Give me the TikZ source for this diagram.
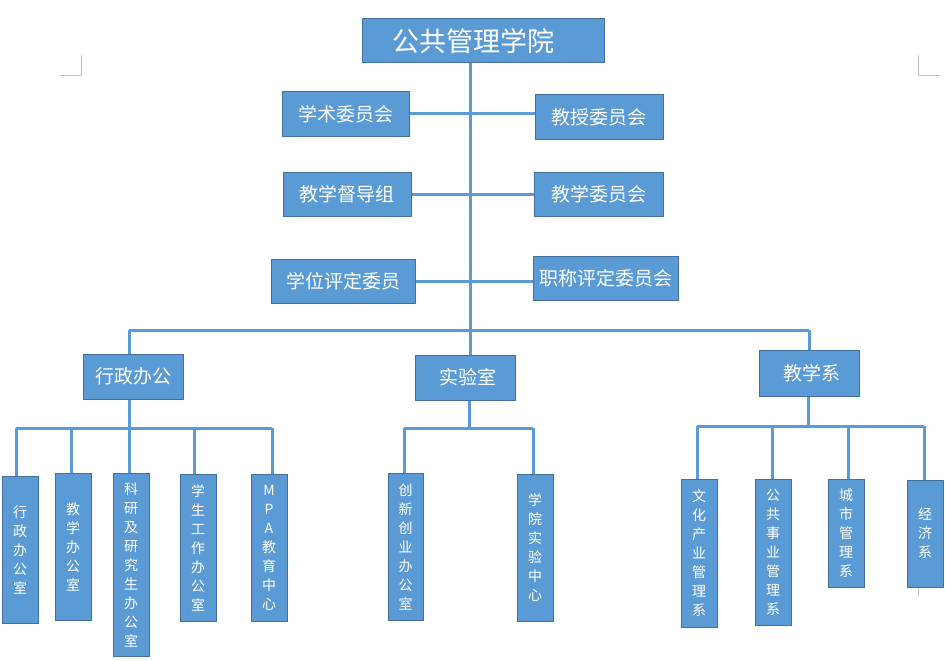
\documentclass[tikz,border=0pt]{standalone}
\usepackage{fontspec}
\newfontfamily\cjk{Noto Sans CJK SC}
\definecolor{boxfill}{HTML}{5B9BD5}
\definecolor{boxline}{HTML}{41719C}
\definecolor{conn}{HTML}{5B9BD5}
\definecolor{mark}{HTML}{BFBFBF}
\tikzset{
  box/.style={draw=boxline, fill=boxfill, line width=1pt, text=white, inner sep=0pt, align=center},
  bigbox/.style={box, font=\cjk\fontsize{27}{30}\selectfont},
  midbox/.style={box, font=\cjk\fontsize{19}{22}\selectfont},
  vbox/.style={box, font=\cjk\fontsize{14}{19}\selectfont, minimum width=36pt},
  link/.style={draw=conn, line width=3pt},
  cornermark/.style={draw=mark, line width=1pt}
}
\begin{document}
\begin{tikzpicture}[x=1pt,y=-1pt]
\useasboundingbox (0,0) rectangle (946,661);
% corner marks
\draw[cornermark] (60,76) -- (81,76) -- (81,55);
\draw[cornermark] (918,55) -- (918,76) -- (940,76);
\draw[cornermark] (918,588) -- (918,596);

% top
\node[bigbox, minimum width=242pt, minimum height=44pt] (top) at (483,41) {公共管理学院\hspace*{19pt}};
\node[midbox, minimum width=127pt, minimum height=44pt] (xs) at (345.5,114) {学术委员会};
\node[midbox, minimum width=128pt, minimum height=44pt] (js) at (599,117) {教授委员会};
\node[midbox, minimum width=128pt, minimum height=44pt] (dd) at (347,194) {教学督导组};
\node[midbox, minimum width=129pt, minimum height=44pt] (jw) at (598.5,194) {教学委员会};
\node[midbox, minimum width=144pt, minimum height=44pt] (xw) at (343,281) {学位评定委员};
\node[midbox, minimum width=145pt, minimum height=44pt] (zc) at (605.5,278) {职称评定委员会};

% level 2
\node[midbox, minimum width=100pt, minimum height=45pt] (xz) at (133,376.5) {行政办公};
\node[midbox, minimum width=100pt, minimum height=45pt] (sy) at (465,377.5) {\hspace*{6pt}实验室};
\node[midbox, minimum width=100pt, minimum height=46pt] (jx) at (809,373) {\hspace*{5pt}教学系};

% level 3 admin
\node[vbox, minimum height=147pt] (a1) at (20,549.5) {行\\政\\办\\公\\室};
\node[vbox, minimum height=147pt] (a2) at (73,546.5) {教\\学\\办\\公\\室};
\node[vbox, minimum height=183pt] (a3) at (131,564.5) {科\\研\\及\\研\\究\\生\\办\\公\\室};
\node[vbox, minimum height=147pt] (a4) at (198,547.5) {学\\生\\工\\作\\办\\公\\室};
\node[vbox, minimum height=147pt] (a5) at (269,547.5) {M\\P\\A\\教\\育\\中\\心};
% lab
\node[vbox, minimum width=35pt, minimum height=147pt] (l1) at (405.5,546.5) {创\\新\\创\\业\\办\\公\\室};
\node[vbox, minimum height=147pt] (l2) at (535,547.5) {学\\院\\实\\验\\中\\心};
% departments
\node[vbox, minimum height=148pt] (d1) at (699,553) {文\\化\\产\\业\\管\\理\\系};
\node[vbox, minimum height=146pt] (d2) at (773,552) {公\\共\\事\\业\\管\\理\\系};
\node[vbox, minimum height=108pt] (d3) at (846,533) {城\\市\\管\\理\\系};
\node[vbox, minimum height=107pt] (d4) at (925,533.5) {经\\济\\系};

% coordinates
\coordinate (trunk) at (470,330);
\coordinate (b1) at (129,330);
\coordinate (b3) at (809,330);
\coordinate (ax1) at (16,428);
\coordinate (ax2) at (71,428);
\coordinate (ax3) at (129,428);
\coordinate (ax4) at (194,428);
\coordinate (ax5) at (272,428);
\coordinate (lx1) at (404,428);
\coordinate (lxm) at (469,428);
\coordinate (lx2) at (533,428);
\coordinate (dx1) at (697,426);
\coordinate (dx2) at (772,426);
\coordinate (dxm) at (808,426);
\coordinate (dx3) at (848,426);
\coordinate (dx4) at (924,426);

% connectors, top part
\draw[link] (top.south -| trunk) -- (trunk);
\draw[link] (xs.east) -- (xs.east -| js.west);
\draw[link] (dd.east) -- (dd.east -| jw.west);
\draw[link] (xw.east) -- (xw.east -| zc.west);
\draw[link] (b1) -- (b3);
\draw[link] (b1) -- (b1 |- xz.north);
\draw[link] (trunk) -- (trunk |- sy.north);
\draw[link] (b3) -- (b3 |- jx.north);

% admin
\draw[link] (xz.south -| ax3) -- (ax3);
\draw[link] (ax1) -- (ax5);
\draw[link] (ax1) -- (ax1 |- a1.north);
\draw[link] (ax2) -- (ax2 |- a2.north);
\draw[link] (ax3) -- (ax3 |- a3.north);
\draw[link] (ax4) -- (ax4 |- a4.north);
\draw[link] (ax5) -- (ax5 |- a5.north);
% lab
\draw[link] (sy.south -| lxm) -- (lxm);
\draw[link] (lx1) -- (lx2);
\draw[link] (lx1) -- (lx1 |- l1.north);
\draw[link] (lx2) -- (lx2 |- l2.north);
% dept
\draw[link] (jx.south -| dxm) -- (dxm);
\draw[link] (dx1) -- (dx4);
\draw[link] (dx1) -- (dx1 |- d1.north);
\draw[link] (dx2) -- (dx2 |- d2.north);
\draw[link] (dx3) -- (dx3 |- d3.north);
\draw[link] (dx4) -- (dx4 |- d4.north);
\end{tikzpicture}
\end{document}
